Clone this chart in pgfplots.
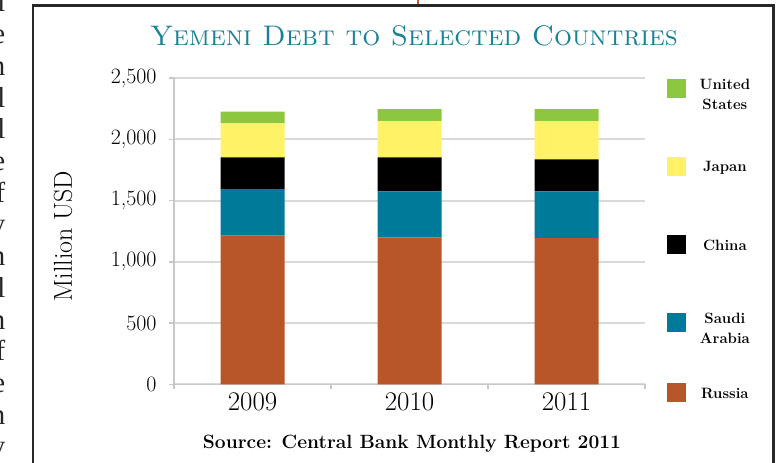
\documentclass[border=0pt]{standalone}
\usepackage{fontspec}
\usepackage{pgfplots}
\pgfplotsset{compat=1.18}
\newfontfamily\sidefont{Liberation Serif}
\definecolor{russia}{RGB}{184,86,41}
\definecolor{saudi}{RGB}{0,122,153}
\definecolor{japan}{RGB}{255,242,102}
\definecolor{usa}{RGB}{141,198,63}
\definecolor{titleteal}{RGB}{26,130,150}
\definecolor{gridgray}{RGB}{217,217,217}
\definecolor{axisgray}{RGB}{200,200,200}
\definecolor{framegray}{RGB}{40,40,40}
\definecolor{topline}{RGB}{190,95,45}
\pgfkeys{/pgfplots/leghalf/.initial=17.5bp}
\pgfplotsset{sqlegend/.style={legend image code/.code={%
  \begin{scope}[##1]
  \path[fill=none, draw=none] (0bp,-\pgfkeysvalueof{/pgfplots/leghalf}) rectangle (19bp,\pgfkeysvalueof{/pgfplots/leghalf});
  \fill (0bp,-9.5bp) rectangle (19bp,9.5bp);
  \end{scope}}}}
\newcommand{\legtxt}[1]{\parbox[c]{64bp}{\centering\bfseries\fontsize{15}{20}\selectfont #1}}
\begin{document}
\begin{tikzpicture}
\path (0bp,0bp) rectangle (780bp,463bp);
\begin{pgfinterruptboundingbox}
\foreach \ch [count=\i from 0] in {l,e,n,l,l,e,f,y,n,l,n,f,e,n,y}
  \node[anchor=base east, inner sep=0pt, font=\sidefont\fontsize{29}{30}\selectfont, text=black!85] at (5.5bp, {(463-12-31.7*\i)*1bp}) {\ch};
\draw[line width=2.5bp, framegray] (33bp,-5bp) -- (33bp,457.5bp) -- (773.5bp,457.5bp) -- (773.5bp,-5bp);
\draw[line width=2bp, topline] (418.3bp,464bp) -- (418.3bp,458.5bp);
\end{pgfinterruptboundingbox}
\begin{axis}[
  at={(174bp,78.7bp)}, anchor=south west,
  scale only axis, width=471bp, height=306.3bp,
  ybar stacked, bar width=64bp,
  xmin=-0.5, xmax=2.5, ymin=0, ymax=2500,
  xtick={0,1,2}, xticklabels={2009,2010,2011},
  minor xtick={-0.5,0.5,1.5,2.5},
  ytick={0,500,1000,1500,2000,2500},
  scaled y ticks=false,
  yticklabel style={/pgf/number format/assume math mode=true, /pgf/number format/1000 sep={,}, font=\fontsize{22}{24}\selectfont, xshift=-9bp},
  xticklabel style={font=\fontsize{27}{29}\selectfont},
  axis x line*=bottom, axis y line*=left,
  axis line style={draw=axisgray, line width=1.5bp},
  tick align=outside,
  major tick length=5bp, minor tick length=5bp,
  tick style={draw=axisgray, line width=1.5bp},
  major x tick style={draw=none},
  ymajorgrids, major grid style={draw=gridgray, line width=2bp},
  ylabel={Million USD},
  ylabel style={at={(axis description cs:-0.2357,0.484)}, anchor=center, font=\fontsize{26}{28}\selectfont},
  legend style={at={(1,1)}, anchor=north west, xshift=21.7bp, yshift=7.2bp, draw=none, fill=none, inner sep=0pt, row sep=43bp, column sep=7bp, nodes={inner sep=0pt}},
  reverse legend,
  every axis plot post/.append style={sqlegend},
]
\addplot[fill=russia, draw=none, /pgfplots/leghalf=9.5bp] coordinates {(0,1213) (1,1200) (2,1194)};
\addlegendentry{\legtxt{Russia}}
\addplot[fill=saudi, draw=none] coordinates {(0,379) (1,375) (2,381)};
\addlegendentry{\legtxt{Saudi\\Arabia}}
\addplot[fill=black, draw=none] coordinates {(0,261) (1,278) (2,261)};
\addlegendentry{\legtxt{China}}
\addplot[fill=japan, draw=none] coordinates {(0,277) (1,294) (2,311)};
\addlegendentry{\legtxt{Japan}}
\addplot[fill=usa, draw=none] coordinates {(0,95) (1,98) (2,98)};
\addlegendentry{\legtxt{United\\States}}
\end{axis}
\node[text=titleteal, font=\fontsize{28.4}{30}\selectfont\scshape] at (414bp,427bp) {Yemeni Debt to Selected Countries};
\node at (412bp,19bp) {\resizebox{418bp}{!}{\bfseries\fontsize{18}{20}\selectfont Source: Central Bank Monthly Report 2011}};
\end{tikzpicture}
\end{document}
